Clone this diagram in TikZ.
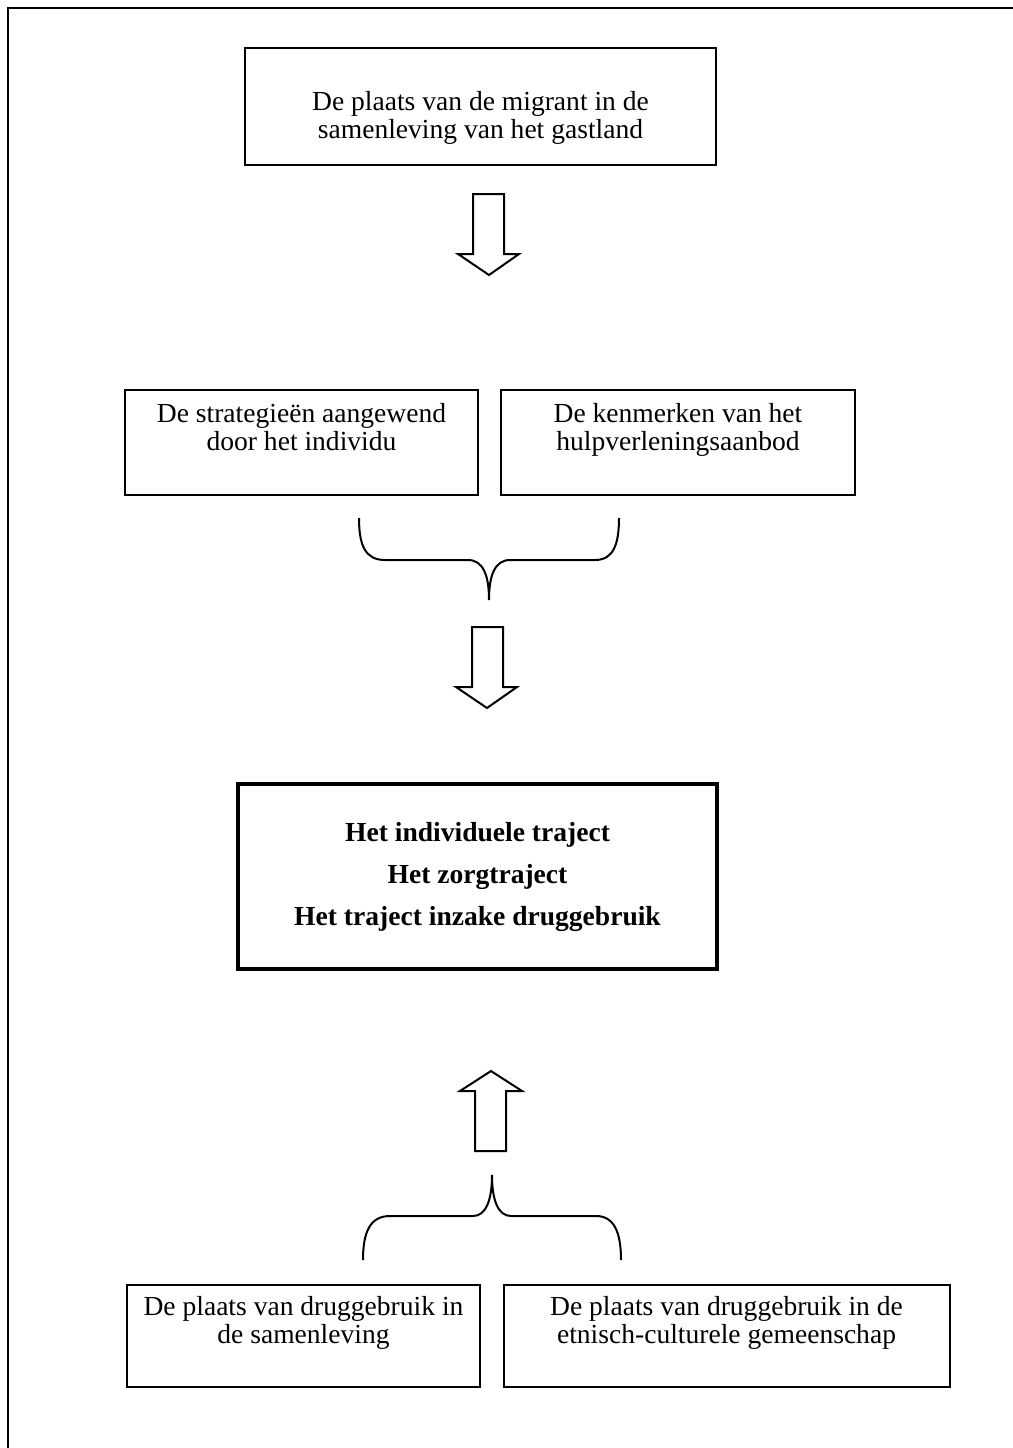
\documentclass[tikz,border=0pt]{standalone}
\usepackage{fontspec}
\setmainfont{Liberation Serif}
\begin{document}
\begin{tikzpicture}[x=0.45pt,y=-0.45pt,line join=miter]
\tikzset{
  boxframe/.style={draw,line width=0.9pt,inner sep=0pt,outer sep=0pt},
  thickframe/.style={draw,line width=2pt,inner sep=0pt,outer sep=0pt},
  boxtext/.style={align=center,inner sep=0pt,font=\fontsize{12.4}{12.6}\selectfont},
  boldtext/.style={align=center,inner sep=0pt,font=\fontsize{12.4}{19.1}\selectfont\bfseries},
  blockarrow/.style={draw,line width=0.9pt,fill=white},
  bracepath/.style={draw,line width=0.9pt,line cap=butt},
  outerframe/.style={draw,line width=1pt}
}
\useasboundingbox (0,0) rectangle (1013,1448);
\path[outerframe] (8,1448) -- (8,8) -- (1013,8);

% top box
\node[boxframe,minimum width=211.95pt,minimum height=52.65pt] (top) at (480.5,106.5) {};
\node[boxtext] (toptext) at (480.5,119) {\strut De plaats van de migrant in de\\samenleving van het gastland\strut};

% arrow 1
\path[blockarrow] (473,194) -- (504,194) -- (504,254) -- (519,254) -- (489,275) -- (458,254) -- (473,254) -- cycle;

% middle boxes
\node[boxframe,minimum width=158.85pt,minimum height=47.25pt] (sl) at (301.5,442.5) {};
\node[boxtext] (sltext) at (301.5,431) {\strut De strategieën aangewend\\door het individu\strut};
\node[boxframe,minimum width=159.3pt,minimum height=47.25pt] (sr) at (678,442.5) {};
\node[boxtext] (srtext) at (678,431) {\strut De kenmerken van het\\hulpverleningsaanbod\strut};

% brace 1
\path[bracepath] (359,518) .. controls (359,545) and (365,560) .. (385,560) -- (468,560)
  .. controls (483,560) and (489,575) .. (489,600)
  .. controls (489,575) and (495,560) .. (510,560) -- (595,560)
  .. controls (613,560) and (619,545) .. (619,518);

% arrow 2
\path[blockarrow] (472,627) -- (503,627) -- (503,687) -- (517,687) -- (487,708) -- (456,687) -- (472,687) -- cycle;

% central box
\node[thickframe,minimum width=215.55pt,minimum height=83.25pt] (mid) at (477.5,876.5) {};
\node[boldtext] (midtext) at (477.5,877) {Het individuele traject\\Het zorgtraject\\Het traject inzake druggebruik};

% arrow 3 (up)
\path[blockarrow] (475,1151) -- (506,1151) -- (506,1091) -- (522,1091) -- (491,1071) -- (460,1091) -- (475,1091) -- cycle;

% brace 2
\path[bracepath] (363,1260) .. controls (363,1232) and (370,1216) .. (390,1216) -- (473,1216)
  .. controls (486,1216) and (492,1200) .. (492,1175)
  .. controls (492,1200) and (498,1216) .. (511,1216) -- (596,1216)
  .. controls (614,1216) and (621,1232) .. (621,1260);

% bottom boxes
\node[boxframe,minimum width=158.85pt,minimum height=45.9pt] (bl) at (303.5,1336) {};
\node[boxtext] (bltext) at (303.5,1324) {\strut De plaats van druggebruik in\\de samenleving\strut};
\node[boxframe,minimum width=200.7pt,minimum height=45.9pt] (br) at (726.5,1336) {};
\node[boxtext] (brtext) at (726.5,1324) {\strut De plaats van druggebruik in de\\etnisch-culturele gemeenschap\strut};
\end{tikzpicture}
\end{document}
